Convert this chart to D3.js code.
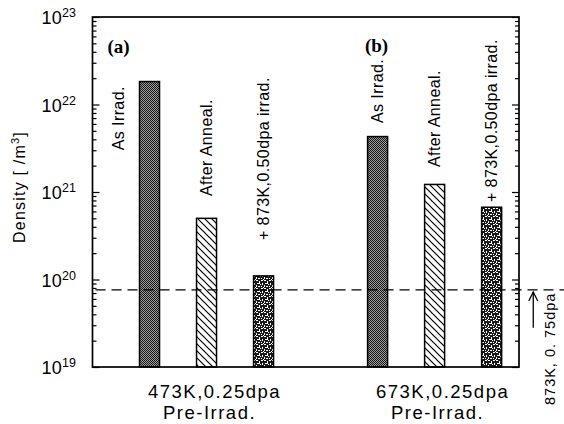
<!DOCTYPE html>
<html><head><meta charset="utf-8">
<script src="https://cdn.jsdelivr.net/npm/d3@7"></script>
<style>
html,body{margin:0;padding:0;background:#fff;}
svg{display:block;}
text{font-family:"Liberation Sans",Arial,Helvetica,sans-serif;fill:#000;}
</style></head>
<body>
<script>
// ---------- data ----------
const categories = ["473K,0.25dpa", "673K,0.25dpa"];
const categorySub = ["Pre-Irrad.", "Pre-Irrad."];
const conditions = ["As Irrad.", "After Anneal.", "+ 873K,0.50dpa irrad."];
const densityA = [1.83e22, 5.0e20, 1.1e20];
const densityB = [4.3e21, 1.22e21, 6.7e20];
const refDensity = 7.6e19;
const refLabel = "873K, 0. 75dpa";
const refArrowFrom = 2.8e19;
const panelLabels = ["(a)", "(b)"];
const yTickExponents = [19, 20, 21, 22, 23];
const yTitle = "Density [ /m";
// label anchors in data space (density at start of rotated label)
const labelAtA = [3.0e21, 9.0e20, 2.83e20];
const labelAtB = [6.15e21, 1.93e21, 7.69e20];

// ---------- layout ----------
const W = 564, H = 424;
const L = 92.5, T = 17, R = 519, B = 367;
const svg = d3.select("body").append("svg").attr("width", W).attr("height", H);

const x = d3.scaleLinear().domain([-1, 6.48]).range([L, R]);
const y = d3.scaleLog().domain([1e19, 1e23]).range([B, T]);
const slot = (g, s) => g * 4 + s;
const barW = 20;

// ---------- patterns ----------
const defs = svg.append("defs");
const p1 = defs.append("pattern").attr("id", "pDark").attr("patternUnits", "userSpaceOnUse")
  .attr("width", 2).attr("height", 2);
p1.append("rect").attr("width", 2).attr("height", 2).attr("fill", "#a0a0a0");
p1.append("rect").attr("x", 0).attr("y", 0).attr("width", 1).attr("height", 1).attr("fill", "#151515");
p1.append("rect").attr("x", 1).attr("y", 1).attr("width", 1).attr("height", 1).attr("fill", "#151515");

const p2 = defs.append("pattern").attr("id", "pHatch").attr("patternUnits", "userSpaceOnUse")
  .attr("width", 7).attr("height", 7);
p2.append("rect").attr("width", 7).attr("height", 7).attr("fill", "#fff");
p2.append("path").attr("d", "M-1,-1 L8,8 M-1,6 L1,8 M6,-1 L8,1")
  .attr("stroke", "#000").attr("stroke-width", 1.2);

const p3 = defs.append("pattern").attr("id", "pStip").attr("patternUnits", "userSpaceOnUse")
  .attr("width", 8).attr("height", 8);
p3.append("rect").attr("width", 8).attr("height", 8).attr("fill", "#1a1a1a");
const blobs = [[0,0,2,1],[3,1,1,2],[5,0,2,1],[1,3,2,1],[6,3,1,2],[4,4,1,1],[0,5,1,2],[2,6,2,1],[5,6,1,1],[7,7,1,1],[3,3,1,1]];
blobs.forEach(b => p3.append("rect").attr("x", b[0]).attr("y", b[1]).attr("width", b[2]).attr("height", b[3]).attr("fill", "#fff"));
const fills = ["url(#pDark)", "url(#pHatch)", "url(#pStip)"];

// ---------- bars ----------
const bars = [];
[densityA, densityB].forEach((arr, g) => arr.forEach((v, s) => bars.push({g, s, v})));
svg.append("g").selectAll("rect").data(bars).join("rect")
  .attr("x", d => x(slot(d.g, d.s)) - barW / 2)
  .attr("y", d => y(d.v))
  .attr("width", barW)
  .attr("height", d => y(1e19) - y(d.v))
  .attr("fill", d => fills[d.s])
  .attr("stroke", "#000").attr("stroke-width", 1.5);

// ---------- axes ----------
const allTicks = y.ticks();
const majors = yTickExponents.map(e => Math.pow(10, e));
const minors = allTicks.filter(t => !majors.some(m => Math.abs(m - t) / m < 1e-6));
function addAxis(gen, xpos, vals, size) {
  const g = svg.append("g").attr("transform", `translate(${xpos},0)`)
    .call(gen(y).tickValues(vals).tickSize(size).tickFormat(""));
  g.select(".domain").remove();
  g.selectAll("line").attr("stroke", "#000").attr("stroke-width", 1.2);
}
addAxis(d3.axisRight, L, minors, 4);
addAxis(d3.axisRight, L, majors, 7);
addAxis(d3.axisLeft, R, minors, 4);
addAxis(d3.axisLeft, R, majors, 7);

svg.append("rect").attr("x", L).attr("y", T).attr("width", R - L).attr("height", B - T)
  .attr("fill", "none").attr("stroke", "#000").attr("stroke-width", 1.7);

// y tick labels
const yl = svg.append("g").selectAll("text").data(yTickExponents).join("text")
  .attr("x", 76).attr("y", d => y(Math.pow(10, d)) + 7)
  .attr("text-anchor", "end").style("font-size", "18px").style("letter-spacing", "0.3px");
yl.append("tspan").text("10");
yl.append("tspan").attr("dy", -7).style("font-size", "12.5px").style("letter-spacing", "0px").text(d => d);

// y title
const yt = svg.append("text")
  .attr("transform", `translate(25,${(T + B) / 2 - 5}) rotate(-90)`)
  .attr("text-anchor", "middle").style("font-size", "16px").style("letter-spacing", "1.2px");
yt.append("tspan").text(yTitle);
yt.append("tspan").attr("dy", -6).style("font-size", "11px").text("3");
yt.append("tspan").attr("dy", 6).text("]");

// ---------- reference dashed line ----------
svg.append("line")
  .attr("x1", L + 3).attr("x2", W)
  .attr("y1", y(refDensity)).attr("y2", y(refDensity))
  .attr("stroke", "#000").attr("stroke-width", 1.3).attr("stroke-dasharray", "10,6");

// arrow
const ax = x(6.73);
svg.append("line").attr("x1", ax).attr("x2", ax)
  .attr("y1", y(refArrowFrom)).attr("y2", y(refDensity) + 2)
  .attr("stroke", "#000").attr("stroke-width", 1.3);
svg.append("path")
  .attr("d", `M${ax - 4.5},${y(refDensity) + 11} L${ax},${y(refDensity) + 2} L${ax + 4.5},${y(refDensity) + 11}`)
  .attr("fill", "none").attr("stroke", "#000").attr("stroke-width", 1.3);
svg.append("text")
  .attr("transform", `translate(${x(7.03)},405) rotate(-90)`)
  .attr("dy", "0.35em").style("font-size", "14.5px").style("letter-spacing", "1px")
  .text(refLabel);

// ---------- bar labels ----------
const labs = [];
[labelAtA, labelAtB].forEach((arr, g) => arr.forEach((v, s) => labs.push({g, s, v})));
svg.append("g").selectAll("text").data(labs).join("text")
  .attr("transform", d => {
    const dx = (d.g === 0 && d.s === 0) ? -31 : 0;
    return `translate(${x(slot(d.g, d.s)) + dx},${y(d.v)}) rotate(-90)`;
  })
  .attr("dy", "0.35em").style("font-size", "16px").style("letter-spacing", "0.4px")
  .text(d => conditions[d.s]);

// panel labels
svg.append("g").selectAll("text").data(panelLabels).join("text")
  .attr("x", (d, i) => x(slot(i, 0)) + (i === 0 ? -31 : -1))
  .attr("y", (d, i) => y(i === 0 ? 3.9e22 : 4.0e22))
  .attr("text-anchor", "middle")
  .style("font-family", "'Liberation Serif','Times New Roman',serif")
  .style("font-weight", "bold").style("font-size", "19px")
  .text(d => d);

// category labels
const cl = svg.append("g").selectAll("g").data(categories).join("g")
  .style("font-size", "18.5px").style("letter-spacing", "1.5px");
cl.append("text").attr("text-anchor", "middle")
  .attr("x", (d, i) => x(slot(i, 1)) + 8).attr("y", 398).text(d => d);
cl.append("text").attr("text-anchor", "middle")
  .attr("x", (d, i) => x(slot(i, 1)) + 3).attr("y", 419).text((d, i) => categorySub[i]);
</script>
</body></html>
